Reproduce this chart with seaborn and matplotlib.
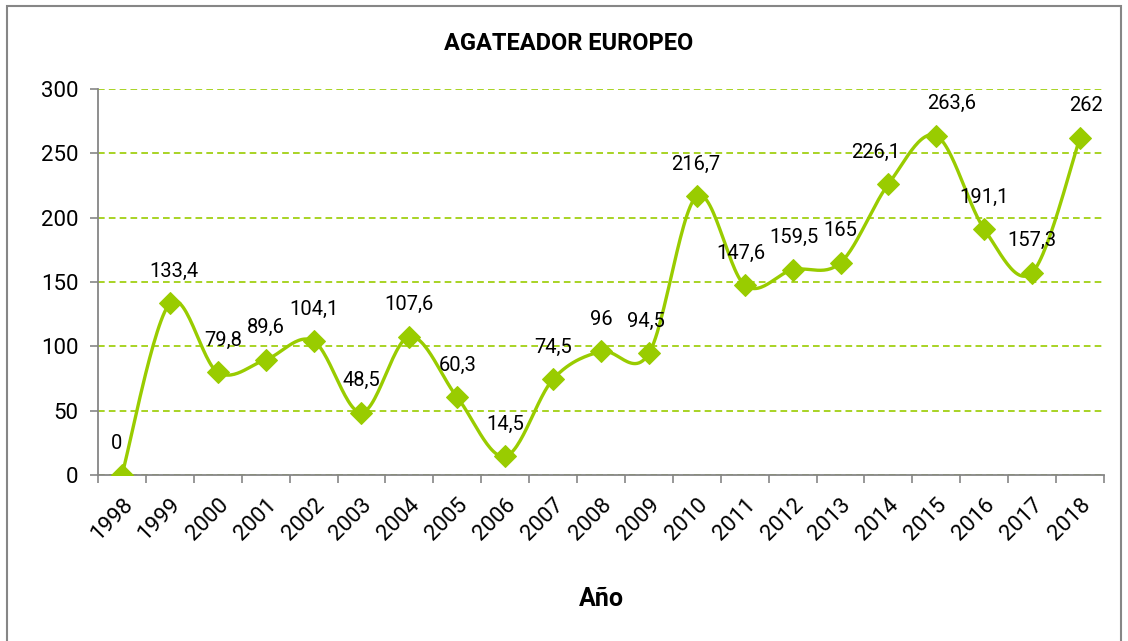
import numpy as np
import pandas as pd
import matplotlib
matplotlib.use("Agg")
import matplotlib.pyplot as plt
from matplotlib.patches import Rectangle
from matplotlib.ticker import MultipleLocator, FixedLocator
import seaborn as sns

years = ["1998", "1999", "2000", "2001", "2002", "2003", "2004", "2005", "2006", "2007",
         "2008", "2009", "2010", "2011", "2012", "2013", "2014", "2015", "2016", "2017", "2018"]
values = [0, 133.4, 79.8, 89.6, 104.1, 48.5, 107.6, 60.3, 14.5, 74.5,
          96, 94.5, 216.7, 147.6, 159.5, 165, 226.1, 263.6, 191.1, 157.3, 262]
labels = ["0", "133,4", "79,8", "89,6", "104,1", "48,5", "107,6", "60,3", "14,5", "74,5",
          "96", "94,5", "216,7", "147,6", "159,5", "165", "226,1", "263,6", "191,1", "157,3", "262"]
label_dx = [-4, 3, 4, 0, 0, 0, 0, 0, 0, 0, 0, -2, -1, -3, 1, 0, -9, 11, 0, 0, 4]

GREEN = "#99CC00"
GRAY = "#868686"

sns.set_theme(style="white")
plt.rcParams["font.family"] = ["Roboto", "DejaVu Sans"]

fig = plt.figure(figsize=(11.28, 6.41), dpi=100)
ax = fig.add_axes([98 / 1128, 1 - 475 / 641, (1104 - 98) / 1128, (475 - 89) / 641])

x = np.arange(len(values), dtype=float)
y = np.array(values, dtype=float)

# Excel-like smoothed curve (Catmull-Rom Bezier through the data points)
xs, ys = [], []
n = len(x)
t = np.linspace(0, 1, 30)
for i in range(n - 1):
    p0 = np.array([x[max(i - 1, 0)], y[max(i - 1, 0)]])
    p1 = np.array([x[i], y[i]])
    p2 = np.array([x[i + 1], y[i + 1]])
    p3 = np.array([x[min(i + 2, n - 1)], y[min(i + 2, n - 1)]])
    b1 = p1 + (p2 - p0) / 6
    b2 = p2 - (p3 - p1) / 6
    pts = ((1 - t) ** 3)[:, None] * p1 + (3 * (1 - t) ** 2 * t)[:, None] * b1 + \
          (3 * (1 - t) * t ** 2)[:, None] * b2 + (t ** 3)[:, None] * p2
    xs.extend(pts[:, 0]); ys.extend(pts[:, 1])
curve = pd.DataFrame({"x": xs, "y": ys})
df = pd.DataFrame({"x": x, "y": y})

ax.yaxis.grid(True, color=GREEN, linestyle=(0, (4, 2.5)), linewidth=1.2)
ax.set_axisbelow(True)

sns.lineplot(data=curve, x="x", y="y", ax=ax, color=GREEN, linewidth=2.4, sort=False,
             estimator=None, zorder=3)
sns.lineplot(data=df, x="x", y="y", ax=ax, color=GREEN, linewidth=0, marker="D",
             markersize=11, markeredgecolor=GREEN, estimator=None, zorder=4)

for xi, yi, lab, dx in zip(x, y, labels, label_dx):
    ax.annotate(lab, (xi, yi), xytext=(dx, 23), textcoords="offset points",
                ha="center", va="center", fontsize=14.5, color="black")

ax.set_xlim(-0.5, len(values) - 0.5)
ax.set_ylim(0, 300)
ax.yaxis.set_major_locator(MultipleLocator(50))
ax.xaxis.set_major_locator(FixedLocator(x))
ax.xaxis.set_minor_locator(FixedLocator(np.arange(-0.5, len(values), 1.0)))
ax.set_xticklabels(years, rotation=45, ha="right", rotation_mode="anchor")
ax.tick_params(axis="x", which="major", length=0, pad=14, labelsize=16, labelcolor="black")
ax.tick_params(axis="x", which="minor", length=6, width=1.2, color=GRAY, direction="out", bottom=True)
ax.tick_params(axis="y", which="major", length=6, width=1.2, color=GRAY, direction="out",
               left=True, labelsize=16, labelcolor="black", pad=8)

for side in ["top", "right"]:
    ax.spines[side].set_visible(False)
for side in ["left", "bottom"]:
    ax.spines[side].set_color(GRAY)
    ax.spines[side].set_linewidth(1.3)

ax.set_ylabel("")
ax.set_xlabel("Año", fontsize=18, fontweight="bold", labelpad=30, color="black")
fig.text(569 / 1128, 1 - 44 / 641, "AGATEADOR EUROPEO", ha="center", va="center",
         fontsize=17, fontweight="bold", color="black")

fig.patches.append(Rectangle((6.5 / 1128, -0.05), (1121 - 6.5) / 1128, 1.05 - 6 / 641,
                             transform=fig.transFigure, fill=False, edgecolor=GRAY,
                             linewidth=1.5))

fig.savefig("out.png", dpi=100)
